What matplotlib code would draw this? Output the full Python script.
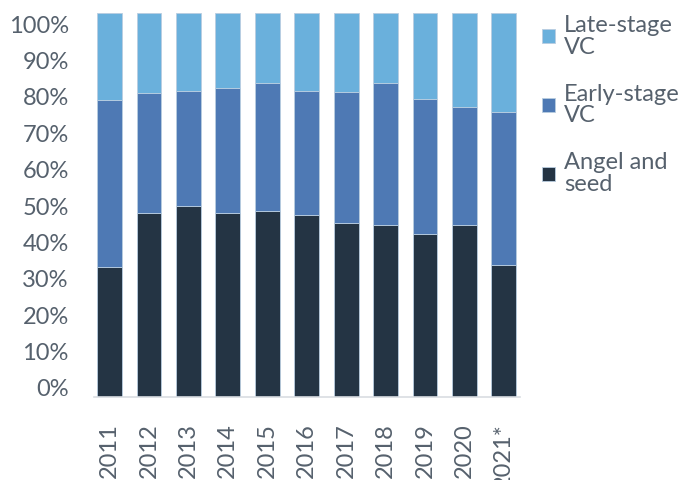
import numpy as np
import matplotlib.pyplot as plt

plt.rcParams['font.family'] = ['Lato', 'DejaVu Sans']

years = ['2011', '2012', '2013', '2014', '2015', '2016', '2017', '2018', '2019', '2020', '2021*']
angel_seed = [33.9, 47.9, 49.7, 47.9, 48.4, 47.4, 45.3, 44.8, 42.4, 44.8, 34.4]
early_vc = [43.4, 31.3, 30.0, 32.6, 33.4, 32.3, 34.1, 37.0, 35.2, 30.7, 39.8]
late_vc = [22.7, 20.8, 20.3, 19.5, 18.2, 20.3, 20.6, 18.2, 22.4, 24.5, 25.8]
tick_labels = ['0%', '10%', '20%', '30%', '40%', '50%', '60%', '70%', '80%', '90%', '100%']

txt_color = '#56616d'

fig = plt.figure(figsize=(6.8, 4.8), dpi=100)
ax = fig.add_axes([0.138, 0.173, 0.626, 0.8])

x = np.arange(len(years))
a = np.array(angel_seed) / 100
e = np.array(early_vc) / 100
l = np.array(late_vc) / 100
w = 0.63
edge = dict(edgecolor='#b9cde0', linewidth=0.6)
ax.bar(x, a, w, color='#243444', label='Angel and\nseed', **edge)
ax.bar(x, e, w, bottom=a, color='#4e79b4', label='Early-stage\nVC', **edge)
ax.bar(x, l, w, bottom=a + e, color='#6ab0dc', label='Late-stage\nVC', **edge)

ax.set_xlim(-0.4, len(years) - 0.6)
ax.set_ylim(0, 1)
ax.set_xticks(x)
ax.set_xticklabels(years, rotation=90, fontsize=17, color=txt_color)
# 刻度文字位置按原图放置
ax.set_yticks(np.linspace(0.0234, 0.971, 11))
ax.set_yticklabels(tick_labels, fontsize=17, color=txt_color)
ax.tick_params(axis='x', length=0, pad=19)
ax.tick_params(axis='y', length=0, pad=18)
for s in ['top', 'right', 'left']:
    ax.spines[s].set_visible(False)
ax.spines['bottom'].set_color('#d9dde2')
ax.spines['bottom'].set_linewidth(1.2)

h, lab = ax.get_legend_handles_labels()
leg = ax.legend(h[::-1], lab[::-1], loc='upper left', bbox_to_anchor=(1.03, 1.02),
                frameon=False, fontsize=17, handlelength=0.55, handleheight=0.55,
                handletextpad=0.4, labelspacing=1.1, borderaxespad=0)
for t in leg.get_texts():
    t.set_color(txt_color)
    t.set_linespacing(1.05)

fig.savefig('out.png', dpi=100)
